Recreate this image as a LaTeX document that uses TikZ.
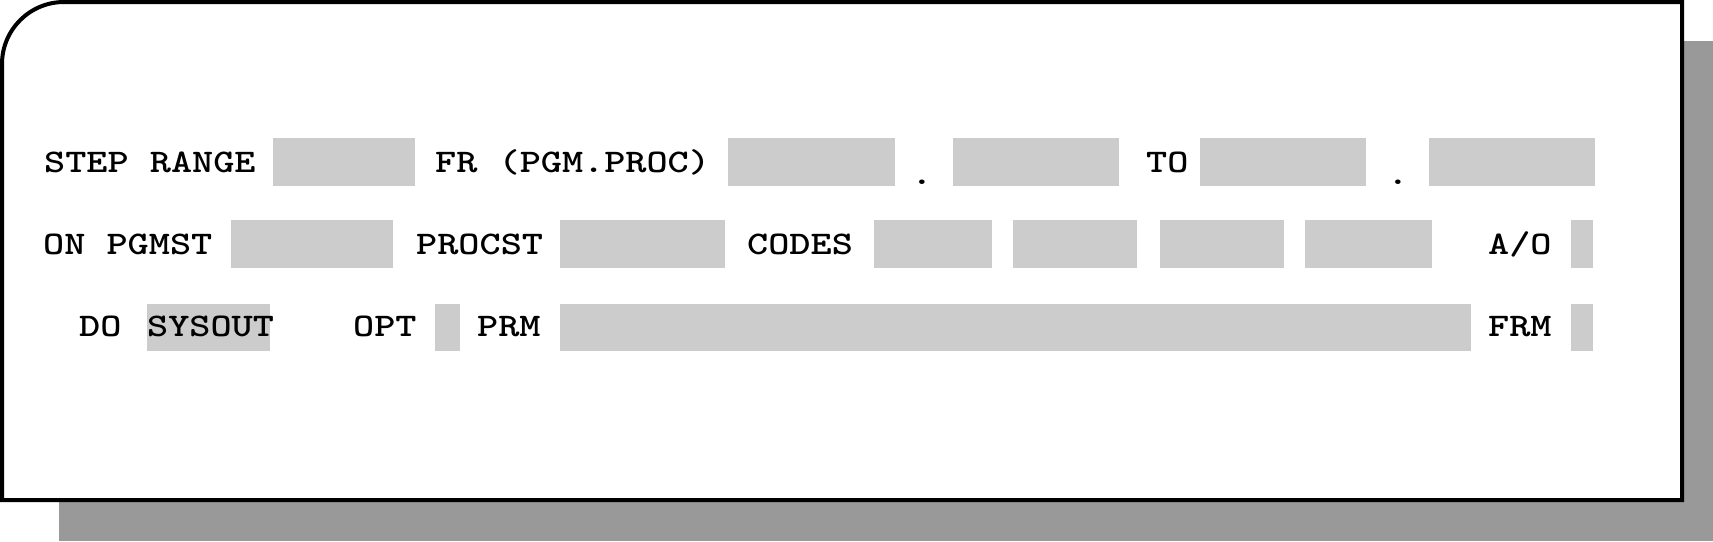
\documentclass[tikz,border=0pt]{standalone}
\usepackage{fontspec}
\usepackage{graphicx}
\definecolor{fieldgray}{HTML}{CCCCCC}
\definecolor{shadowgray}{HTML}{999999}
\newcommand{\widetxt}[1]{\scalebox{1.22}[1]{#1}}
\tikzset{
  fieldbox/.style={fill=fieldgray},
  lbl/.style={anchor=base west, inner sep=0pt, font=\ttfamily\bfseries\fontsize{33}{38}\selectfont},
  dotlbl/.style={anchor=base, inner sep=0pt, font=\ttfamily\bfseries\fontsize{33}{38}\selectfont},
  frame/.style={draw=black, line width=4pt, fill=white},
}
\begin{document}
\begin{tikzpicture}[x=1pt, y=-1pt]
\useasboundingbox (0,0) rectangle (1713,541);
% shadow
\fill[shadowgray] (59,41) rectangle (1713,541);
% frame
\draw[frame] (2,64) arc[start angle=180, end angle=270, radius=62] -- (1682,2) -- (1682,500) -- (2,500) -- cycle;
% row 1 fields
\fill[fieldbox] (273,138) rectangle (415,186);
\fill[fieldbox] (728,138) rectangle (895,186);
\fill[fieldbox] (953,138) rectangle (1119,186);
\fill[fieldbox] (1200,138) rectangle (1366,186);
\fill[fieldbox] (1429,138) rectangle (1595,186);
% row 2 fields
\fill[fieldbox] (231,220) rectangle (393,268);
\fill[fieldbox] (560,220) rectangle (725,268);
\fill[fieldbox] (874,220) rectangle (992,268);
\fill[fieldbox] (1013,220) rectangle (1137,268);
\fill[fieldbox] (1160,220) rectangle (1284,268);
\fill[fieldbox] (1305,220) rectangle (1432,268);
\fill[fieldbox] (1571,220) rectangle (1593,268);
% row 3 fields
\fill[fieldbox] (147,304) rectangle (270,351);
\fill[fieldbox] (435,304) rectangle (460,351);
\fill[fieldbox] (560,304) rectangle (1471,351);
\fill[fieldbox] (1571,304) rectangle (1593,351);
% row 1 labels
\node[lbl] (steprange) at (44,172) {\widetxt{STEP RANGE}};
\node[lbl] (fr) at (435,172) {\widetxt{FR (PGM.PROC)}};
\node[dotlbl] (dot1) at (922,184) {\widetxt{.}};
\node[lbl] (to) at (1146,172) {\widetxt{TO}};
\node[dotlbl] (dot2) at (1398,184) {\widetxt{.}};
% row 2 labels
\node[lbl] (onpgmst) at (43,254) {\widetxt{ON PGMST}};
\node[lbl] (procst) at (416,254) {\widetxt{PROCST}};
\node[lbl] (codes) at (747,254) {\widetxt{CODES}};
\node[lbl] (ao) at (1488,254) {\widetxt{A/O}};
% row 3 labels
\node[lbl] (do) at (79,336) {\widetxt{DO}};
\node[lbl] (sysout) at (147,336) {\widetxt{SYSOUT}};
\node[lbl] (opt) at (353,336) {\widetxt{OPT}};
\node[lbl] (prm) at (477,336) {\widetxt{PRM}};
\node[lbl] (frm) at (1488,336) {\widetxt{FRM}};
\end{tikzpicture}
\end{document}
